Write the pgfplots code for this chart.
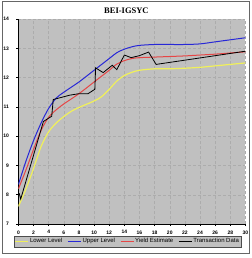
\documentclass[border=0pt]{standalone}
\usepackage{pgfplots}
\pgfplotsset{compat=1.18}
\usepackage{fontspec}
\setmainfont{Liberation Sans}
\newfontfamily\serifbold{Liberation Serif}
\definecolor{bgray}{RGB}{192,192,192}
\definecolor{gridc}{RGB}{172,172,172}
\definecolor{lowc}{RGB}{240,240,90}
\definecolor{upc}{RGB}{40,40,215}
\definecolor{yec}{RGB}{230,70,70}
\begin{document}
\begin{tikzpicture}[x=1pt,y=1pt]
\fill[white] (0,0) rectangle (250,258);
\draw[gray!80!black, line width=0.8pt] (1,5) rectangle (248,257);
\node[font=\serifbold\bfseries\fontsize{8.5}{10}\selectfont] at (125,247) {BEI-IGSYC};
\begin{axis}[
  at={(17pt,34pt)}, anchor=south west,
  scale only axis, width=227pt, height=205pt,
  xmin=0, xmax=30, ymin=7, ymax=14,
  xtick={0,2,...,30}, ytick={7,...,14},
  axis x line*=bottom, axis y line*=left,
  axis line style={black, line width=0.6pt},
  axis background/.style={fill=bgray},
  grid=major,
  major grid style={gridc, densely dashed, line width=0.4pt},
  tick align=outside, major tick length=2pt,
  tick style={black, line width=0.5pt},
  ticklabel style={font=\bfseries\fontsize{5}{6}\selectfont},
  /pgf/number format/assume math mode=true,
  xticklabel shift=1pt, yticklabel shift=4pt,
  legend columns=4,
  legend style={at={(0.48,-0.085)}, anchor=center, fill=bgray, draw=black!70,
    font=\fontsize{6}{7}\selectfont, inner sep=0.8pt,
    /tikz/every even column/.append style={column sep=4pt},
    nodes={inner xsep=1pt}},
  legend image code/.code={\draw[#1, line width=1.2pt] (0pt,0pt) -- (13pt,0pt);},
  every axis plot/.append style={line width=1pt},
]
\addplot[lowc, smooth, line width=1.2pt] coordinates {(0,7.6)(1,8.2)(2,8.9)(3,9.65)(4,10.15)(5,10.45)(6,10.67)(7,10.85)(8,10.98)(10,11.2)(11,11.35)(12,11.6)(13,11.88)(14,12.07)(15,12.18)(16,12.25)(18,12.3)(20,12.3)(22,12.32)(24,12.35)(26,12.4)(28,12.45)(30,12.5)};
\addlegendentry{Lower Level}
\addplot[upc, smooth] coordinates {(0,8.35)(1,9.15)(2,9.85)(3,10.45)(4,10.95)(5,11.3)(6,11.5)(8,11.85)(10,12.25)(12,12.65)(13,12.85)(14,12.97)(15,13.05)(16,13.1)(18,13.13)(20,13.13)(22,13.13)(24,13.15)(26,13.22)(28,13.29)(30,13.36)};
\addlegendentry{Upper Level}
\addplot[yec, smooth] coordinates {(0,8.2)(1,8.85)(2,9.55)(3,10.2)(4,10.65)(5,10.9)(6,11.1)(8,11.45)(10,11.85)(11,12.05)(12,12.25)(13,12.46)(14,12.58)(15,12.65)(16,12.68)(18,12.7)(20,12.72)(22,12.74)(24,12.77)(26,12.8)(28,12.84)(30,12.88)};
\addlegendentry{Yield Estimate}
\addplot[black, line width=0.8pt] coordinates {(0.1,8.05)(0.3,7.85)(3.3,10.5)(4.4,10.68)(4.6,11.25)(6.8,11.4)(8,11.45)(9.2,11.45)(10.1,11.6)(10.2,12.33)(11.2,12.17)(12.4,12.42)(13,12.27)(14,12.77)(14.9,12.68)(16,12.75)(17.2,12.87)(18.2,12.45)(30,12.9)};
\addlegendentry{Transaction Data}
\end{axis}
\end{tikzpicture}
\end{document}
